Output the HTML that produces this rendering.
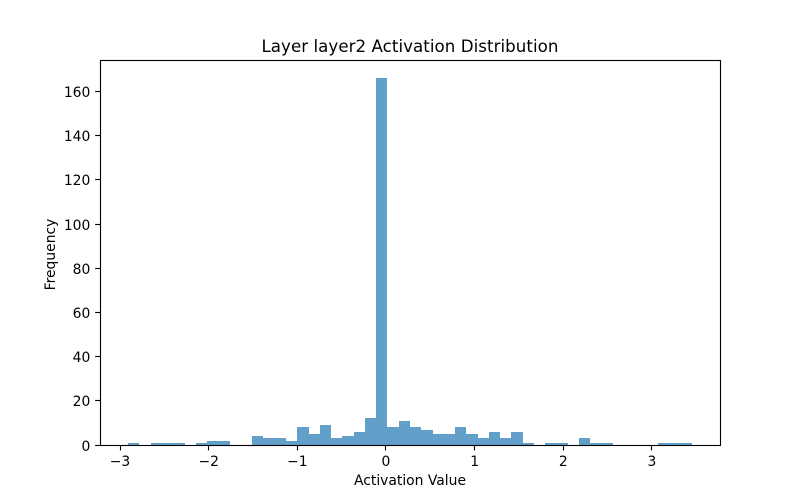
<!DOCTYPE html>
<html>
<head>
<meta charset="utf-8">
<title>Layer layer2 Activation Distribution</title>
<style>
html,body{margin:0;padding:0;background:#fff;width:800px;height:500px;overflow:hidden}
svg{display:block}
text{font-family:"DejaVu Sans",sans-serif;fill:#000}
</style>
</head>
<body>
<svg id="chart" xmlns="http://www.w3.org/2000/svg" width="800" height="500" viewBox="0 0 800 500">
  <rect x="0" y="0" width="800" height="500" fill="#fff"/>
  <text x="410" y="52" font-size="16.67" letter-spacing="0.05" text-anchor="middle">Layer layer2 Activation Distribution</text>
  <g id="bars"></g>
  <g id="xticks"></g>
  <g id="yticks"></g>
  <rect x="100.5" y="60.5" width="620" height="385" fill="none" stroke="#000" stroke-width="1.11"/>
  <text x="410" y="485" font-size="13.89" text-anchor="middle">Activation Value</text>
  <text x="0" y="0" font-size="13.89" text-anchor="middle" transform="translate(55 254.5) rotate(-90)">Frequency</text>
</svg>
<script>
var counts = [1,0,1,1,1,0,1,2,2,0,0,4,3,3,2,8,5,9,3,4,6,12,166,8,11,8,7,5,5,8,5,3,6,3,6,1,0,1,1,0,3,1,1,0,0,0,0,1,1,1];
var dataMin = -2.908;
var dataMax = 3.45;
var xTickValues = [-3,-2,-1,0,1,2,3];
var yTickValues = [0,20,40,60,80,100,120,140,160];

var plotLeft = 100, plotRight = 720, plotTop = 60, plotBottom = 445;
var NS = 'http://www.w3.org/2000/svg';
var xSpan = dataMax - dataMin;
var xLo = dataMin - xSpan * 0.05, xHi = dataMax + xSpan * 0.05;
var yHi = Math.max.apply(null, counts) * 1.05;
function xScale(v){ return plotLeft + (v - xLo) / (xHi - xLo) * (plotRight - plotLeft); }
function yScale(v){ return plotBottom - v / yHi * (plotBottom - plotTop); }
function fmt(v){ return v < 0 ? '\u2212' + Math.abs(v) : String(v); }

var barsG = document.getElementById('bars');
var binW = xSpan / counts.length;
counts.forEach(function(c, i){
  if (c === 0) return;
  var r = document.createElementNS(NS, 'rect');
  
  
  var x0 = Math.round(xScale(dataMin + i * binW)), x1 = Math.round(xScale(dataMin + (i + 1) * binW));
  var top = Math.round(yScale(c));
  r.setAttribute('x', x0);
  r.setAttribute('y', top);
  r.setAttribute('width', x1 - x0);
  r.setAttribute('height', plotBottom - top);
  r.setAttribute('fill', '#1f77b4');
  r.setAttribute('fill-opacity', '0.7');
  r.setAttribute('shape-rendering', 'crispEdges');
  barsG.appendChild(r);
});

var xG = document.getElementById('xticks');
xTickValues.forEach(function(v){
  var px = Math.round(xScale(v) - 0.49) + 0.5;
  var l = document.createElementNS(NS, 'line');
  
  
  l.setAttribute('x1', px);
  l.setAttribute('x2', px);
  l.setAttribute('y1', plotBottom);
  l.setAttribute('y2', plotBottom + 5.4);
  l.setAttribute('stroke', '#000');
  l.setAttribute('stroke-width', '1.11');
  xG.appendChild(l);
  var t = document.createElementNS(NS, 'text');
  
  
  t.setAttribute('x', xScale(v));
  t.setAttribute('y', 466);
  t.setAttribute('font-size', '13.89');
  t.setAttribute('text-anchor', 'middle');
  t.textContent = fmt(v);
  xG.appendChild(t);
});

var yG = document.getElementById('yticks');
yTickValues.forEach(function(v){
  var py = Math.round(yScale(v) - 0.49) + 0.5;
  var l = document.createElementNS(NS, 'line');
  
  
  l.setAttribute('x1', plotLeft - 4.86);
  l.setAttribute('x2', plotLeft);
  l.setAttribute('y1', py);
  l.setAttribute('y2', py);
  l.setAttribute('stroke', '#000');
  l.setAttribute('stroke-width', '1.11');
  yG.appendChild(l);
  var t = document.createElementNS(NS, 'text');
  
  
  t.setAttribute('x', plotLeft - 9.7);
  t.setAttribute('y', py + 5.5);
  t.setAttribute('font-size', '13.89');
  t.setAttribute('text-anchor', 'end');
  t.textContent = fmt(v);
  yG.appendChild(t);
});
</script>
</body>
</html>
